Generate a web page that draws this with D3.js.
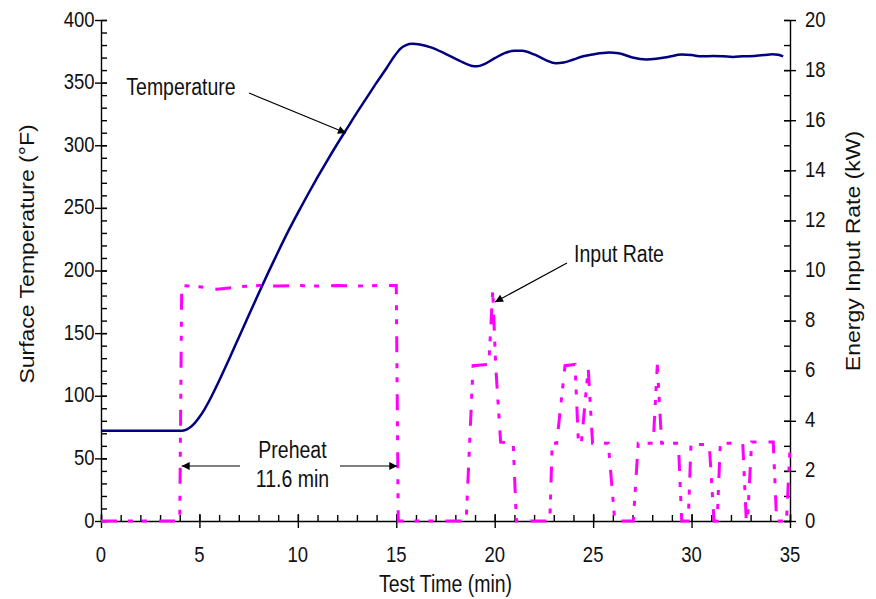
<!DOCTYPE html>
<html>
<head>
<meta charset="utf-8">
<script src="https://cdn.jsdelivr.net/npm/d3@7"></script>
<style>
  body { margin: 0; background: #fff; }
  text { font-family: "Liberation Sans", Arial, sans-serif; fill: #111; }
  .axis path, .axis line { stroke: #000; }
</style>
</head>
<body>
<div id="chart"></div>
<script>
// tick labels
const timeTicks = [0, 5, 10, 15, 20, 25, 30, 35];
const tempTicks = [0, 50, 100, 150, 200, 250, 300, 350, 400];
const rateTicks = [0, 2, 4, 6, 8, 10, 12, 14, 16, 18, 20];

// surface temperature (°F) vs test time (min)
const temperature = [
  [0, 72], [1, 72], [2, 72], [3, 72], [4.0, 72], [4.25, 72.5], [4.5, 74.5], [4.75, 78],
  [5, 83], [5.25, 89], [5.5, 96], [6, 112], [6.5, 129], [7, 146.5], [7.5, 164], [8, 181.5],
  [8.5, 198.5], [9, 215], [9.5, 231], [10, 246], [10.5, 260.5], [11, 274.5], [11.5, 288],
  [12, 301], [12.5, 313.5], [13, 326], [13.5, 338], [14, 350], [14.5, 361.5], [14.9, 371],
  [15.2, 377], [15.5, 380], [15.8, 381], [16.2, 380.5], [16.8, 378], [17.5, 373],
  [18.2, 367.5], [18.8, 363.5], [19.1, 363], [19.5, 365], [20, 369.5], [20.5, 373.5],
  [21, 375.5], [21.4, 375.5], [22, 372.5], [22.6, 368], [23.1, 365.5], [23.5, 366],
  [24, 368.5], [24.5, 371], [25, 372.5], [25.8, 374], [26.3, 373.5], [27, 370],
  [27.7, 368.5], [28.2, 369], [28.8, 370.5], [29.5, 372.4], [30, 372], [30.5, 371],
  [31.1, 371.3], [31.6, 371], [32.1, 370.5], [32.6, 371], [33.2, 371.3], [33.7, 372],
  [34.1, 372.7], [34.4, 372.3], [34.65, 371]
];

// energy input rate (kW) vs test time (min)
const inputRate = [
  [0, 0], [4.0, 0], [4.1, 9.4], [5, 9.35], [5.9, 9.25], [7, 9.35], [8, 9.4], [9, 9.38],
  [10, 9.4], [11, 9.38], [12, 9.4], [13, 9.38], [14, 9.4], [15.0, 9.4], [15.1, 0],
  [18.55, 0], [18.9, 6.2], [19.7, 6.25], [19.9, 9.2], [20.05, 6.2], [20.3, 3.15],
  [20.94, 3.1], [21.1, 0], [22.8, 0], [22.92, 3.1], [23.15, 3.1], [23.57, 6.2],
  [24.08, 6.25], [24.25, 3.15], [24.4, 3.1], [24.75, 6.1], [24.97, 3.1], [25.77, 3.1],
  [26.1, 0], [27.04, 0], [27.29, 3.1], [27.97, 3.1], [28.05, 3.1], [28.26, 6.23],
  [28.48, 3.1], [29.33, 3.1], [29.5, 0], [29.83, 0], [29.97, 3.05], [30.9, 3.05],
  [31.14, 0], [31.3, 0], [31.46, 3.1], [32.6, 3.1], [32.78, 0], [32.84, 0], [33.05, 3.15],
  [34.15, 3.15], [34.32, 0], [34.82, 0], [35, 2.9]
];

const config = {
  width: 876, height: 599,
  left: 101, right: 790, top: 20, bottom: 521,
  stretch: 1.18
};

const svg = d3.select('#chart').append('svg')
  .attr('width', config.width)
  .attr('height', config.height);

const x = d3.scaleLinear().domain([0, 35]).range([config.left, config.right]);
const yTemp = d3.scaleLinear().domain([0, 400]).range([config.bottom, config.top]);
const yRate = d3.scaleLinear().domain([0, 20]).range([config.bottom, config.top]);

// stretched text helper (reference text is tall and narrow)
function label(g, px, py, str, anchor, size, rotate) {
  const t = rotate
    ? `translate(${px},${py}) rotate(-90) scale(${config.stretch},1)`
    : `translate(${px},${py}) scale(1,${config.stretch})`;
  return g.append('text')
    .attr('transform', t)
    .attr('text-anchor', anchor)
    .style('font-size', size + 'px')
    .text(str);
}

// minor ticks (inside)
svg.append('g').attr('class', 'axis')
  .attr('transform', `translate(0,${config.bottom})`)
  .call(d3.axisBottom(x).tickValues(d3.range(0, 36, 1)).tickSize(-6).tickFormat(''))
  .call(g => g.select('.domain').remove());
svg.append('g').attr('class', 'axis')
  .attr('transform', `translate(${config.left},0)`)
  .call(d3.axisLeft(yTemp).tickValues(d3.range(0, 401, 10)).tickSize(-6).tickFormat(''))
  .call(g => g.select('.domain').remove());
svg.append('g').attr('class', 'axis')
  .attr('transform', `translate(${config.right},0)`)
  .call(d3.axisRight(yRate).tickValues(d3.range(0, 21, 1)).tickSize(-6).tickFormat(''))
  .call(g => g.select('.domain').remove());

// major ticks (cross) + axis lines
const xAxisG = svg.append('g').attr('class', 'axis')
  .attr('transform', `translate(0,${config.bottom})`)
  .call(d3.axisBottom(x).tickValues(timeTicks).tickSizeOuter(0).tickFormat(''));
xAxisG.selectAll('.tick line').attr('y1', -7).attr('y2', 7);

const yAxisG = svg.append('g').attr('class', 'axis')
  .attr('transform', `translate(${config.left},0)`)
  .call(d3.axisLeft(yTemp).tickValues(tempTicks).tickSizeOuter(0).tickFormat(''));
yAxisG.selectAll('.tick line').attr('x1', -6).attr('x2', 6);

const y2AxisG = svg.append('g').attr('class', 'axis')
  .attr('transform', `translate(${config.right},0)`)
  .call(d3.axisRight(yRate).tickValues(rateTicks).tickSizeOuter(0).tickFormat(''));
y2AxisG.selectAll('.tick line').attr('x1', -6).attr('x2', 6);

svg.selectAll('.axis path, .axis line').attr('stroke-width', 1.4);

// tick labels
const labels = svg.append('g');
timeTicks.forEach(d => label(labels, x(d), 562, d, 'middle', 18.5));
tempTicks.forEach(d => label(labels, 94.5, yTemp(d) + 6.5, d, 'end', 18.5));
rateTicks.forEach(d => label(labels, 805, yRate(d) + 6.5, d, 'start', 18.5));

// axis titles
label(labels, x(17.5), 592, 'Test Time (min)', 'middle', 19.5);
label(labels, 34, 254, 'Surface Temperature (°F)', 'middle', 19.5, true);
label(labels, 860, 251, 'Energy Input Rate (kW)', 'middle', 19.5, true);

// series
const rateLine = d3.line().x(d => x(d[0])).y(d => yRate(d[1]));
svg.append('path')
  .datum(inputRate)
  .attr('fill', 'none')
  .attr('stroke', '#ff00ff')
  .attr('stroke-width', 3)
  .attr('stroke-dasharray', '16,11,5,9,5,12')
  .attr('d', rateLine);

const tempLine = d3.line().x(d => x(d[0])).y(d => yTemp(d[1])).curve(d3.curveMonotoneX);
svg.append('path')
  .datum(temperature)
  .attr('fill', 'none')
  .attr('stroke', '#000080')
  .attr('stroke-width', 2.5)
  .attr('d', tempLine);

// annotations
svg.append('defs').append('marker')
  .attr('id', 'arrow')
  .attr('viewBox', '0 0 10 10')
  .attr('refX', 10).attr('refY', 5)
  .attr('markerWidth', 10).attr('markerHeight', 8)
  .attr('markerUnits', 'userSpaceOnUse')
  .attr('orient', 'auto')
  .append('path').attr('d', 'M0,0L10,5L0,10Z').attr('fill', '#000');

const notes = svg.append('g');
function arrow(x1, y1, x2, y2) {
  notes.append('line')
    .attr('x1', x1).attr('y1', y1).attr('x2', x2).attr('y2', y2)
    .attr('stroke', '#000').attr('stroke-width', 1.2)
    .attr('marker-end', 'url(#arrow)');
}
label(notes, 181, 95, 'Temperature', 'middle', 19.5);
arrow(249, 93, 346, 133);
label(notes, 619, 262, 'Input Rate', 'middle', 19.5);
arrow(567, 263, 495, 302);
label(notes, 292.5, 458, 'Preheat', 'middle', 19.5);
label(notes, 292.5, 487, '11.6 min', 'middle', 19.5);
arrow(240, 466, x(4.1), 466);
arrow(340, 466, x(15.05), 466);
</script>
</body>
</html>
